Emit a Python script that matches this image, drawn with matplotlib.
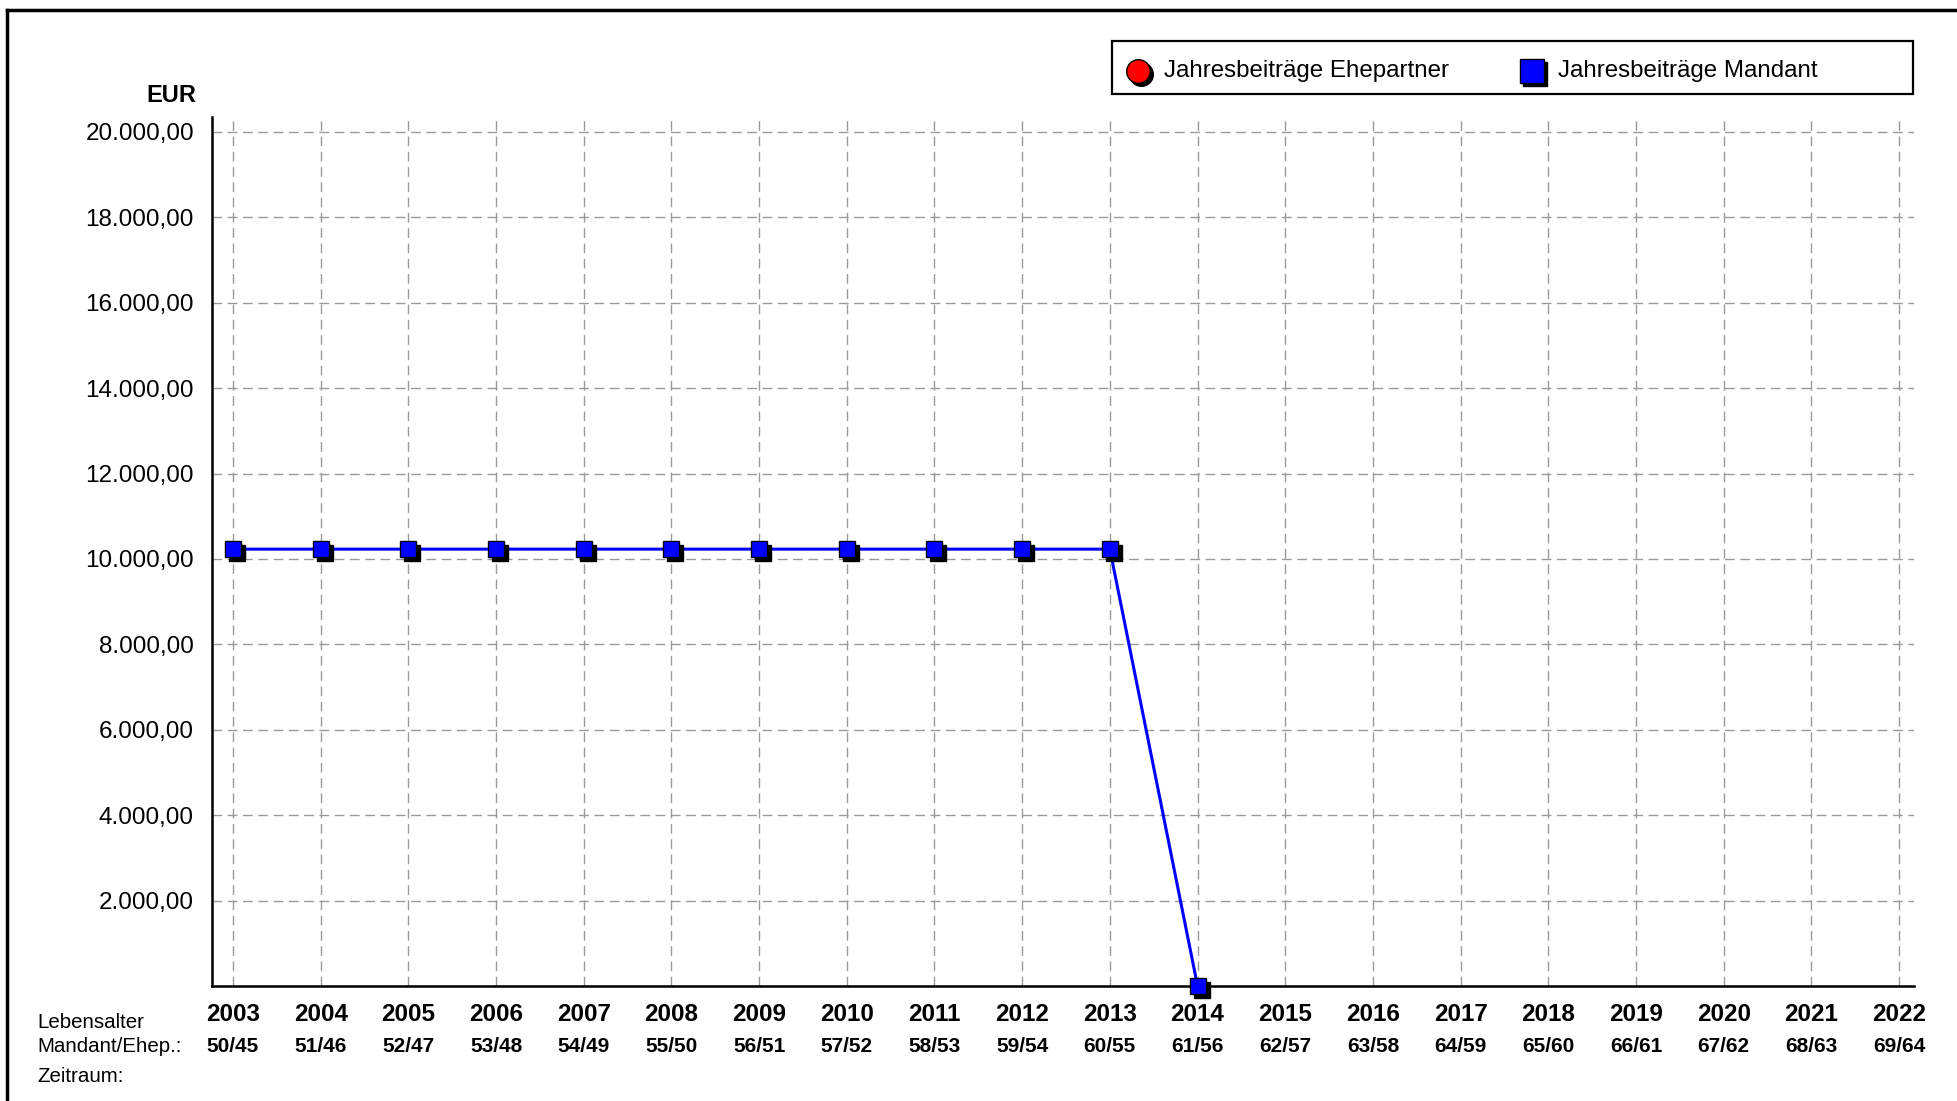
import numpy as np
import matplotlib
matplotlib.use("Agg")
import matplotlib.pyplot as plt
import matplotlib.transforms as mtransforms
from matplotlib.lines import Line2D
from matplotlib.patches import Rectangle

plt.rcParams['font.family'] = ['Liberation Sans', 'DejaVu Sans']

# Daten
jahre = list(range(2003, 2023))
lebensalter = ["50/45", "51/46", "52/47", "53/48", "54/49", "55/50", "56/51", "57/52",
               "58/53", "59/54", "60/55", "61/56", "62/57", "63/58", "64/59", "65/60",
               "66/61", "67/62", "68/63", "69/64"]
beitraege_mandant = [10230, 10230, 10230, 10230, 10230, 10230, 10230, 10230, 10230, 10230,
                     10230, 0, None, None, None, None, None, None, None, None]
beitraege_ehepartner = [None] * 20
y_ticks = [2000, 4000, 6000, 8000, 10000, 12000, 14000, 16000, 18000, 20000]


def eur(v):
    s = f"{v:,.2f}"
    return s.replace(",", "X").replace(".", ",").replace("X", ".")


fig = plt.figure(figsize=(19.57, 11.01), dpi=100)
ax = fig.add_axes([0.1083, 0.1045, 0.978 - 0.1083, 0.8937 - 0.1045])

werte = np.array([np.nan if v is None else v for v in beitraege_mandant], dtype=float)

# Schatten der Marker
schatten = ax.transData + mtransforms.ScaledTranslation(4 / 100, -4 / 100, fig.dpi_scale_trans)
ax.plot(jahre, werte, color="blue", lw=2.2, zorder=3, clip_on=False)
ax.plot(jahre, werte, ls="none", marker="s", ms=11.5, color="black", mec="black",
        transform=schatten, zorder=4, clip_on=False)
ax.plot(jahre, werte, ls="none", marker="s", ms=11.5, color="blue", mec="black",
        mew=1, zorder=5, clip_on=False)

ax.set_xlim(2002.76, 2022.17)
ax.set_ylim(0, 20350)
ax.set_xticks(jahre)
ax.set_xticklabels([str(j) for j in jahre], fontsize=17.5, fontweight="bold")
ax.set_yticks(y_ticks)
ax.set_yticklabels([eur(v) for v in y_ticks], fontsize=17.5)
ax.tick_params(axis="x", length=0, pad=12)
ax.tick_params(axis="y", length=0, pad=13)

ax.grid(True, color="#9a9a9a", lw=1.0, ls=(0, (7, 4)))
ax.set_axisbelow(True)
for s in ["top", "right"]:
    ax.spines[s].set_visible(False)
for s in ["left", "bottom"]:
    ax.spines[s].set_linewidth(1.8)

trans = mtransforms.blended_transform_factory(ax.transData, ax.transAxes)
for j, a in zip(jahre, lebensalter):
    ax.text(j, -0.0695, a, transform=trans, ha="center", va="center",
            fontsize=15, fontweight="bold")

fig.text(196 / 1957, 1 - 95 / 1101, "EUR", ha="right", va="center",
         fontsize=17, fontweight="bold")
fig.text(37 / 1957, 1 - 1023 / 1101, "Lebensalter", ha="left", va="center", fontsize=14.8)
fig.text(37 / 1957, 1 - 1046 / 1101, "Mandant/Ehep.:", ha="left", va="center", fontsize=14.8)
fig.text(37 / 1957, 1 - 1076 / 1101, "Zeitraum:", ha="left", va="center", fontsize=14.8)

# Rahmen
fig.add_artist(Line2D([7 / 1957, 1], [1 - 10 / 1101, 1 - 10 / 1101],
                      transform=fig.transFigure, color="black", lw=2.5))
fig.add_artist(Line2D([7 / 1957, 7 / 1957], [0, 1 - 10 / 1101],
                      transform=fig.transFigure, color="black", lw=2.5))

# Legende
fig.add_artist(Rectangle((1112 / 1957, 1 - 94 / 1101), 801 / 1957, 53 / 1101,
                         transform=fig.transFigure, fill=False, ec="black", lw=1.6))
leg_y = 1 - 71 / 1101
fig_schatten = fig.transFigure + mtransforms.ScaledTranslation(3 / 100, -3 / 100, fig.dpi_scale_trans)
for x, mk, col, label in [(1138, "o", "red", "Jahresbeiträge Ehepartner"),
                          (1532, "s", "blue", "Jahresbeiträge Mandant")]:
    fig.add_artist(Line2D([x / 1957], [leg_y], transform=fig_schatten, marker=mk, ms=17,
                          color="black", ls="none"))
    fig.add_artist(Line2D([x / 1957], [leg_y], transform=fig.transFigure, marker=mk, ms=17,
                          color=col, mec="black", mew=1, ls="none"))
    fig.text((x + 26) / 1957, leg_y, label, ha="left", va="center", fontsize=17.4)

fig.savefig("out.png", dpi=100)
